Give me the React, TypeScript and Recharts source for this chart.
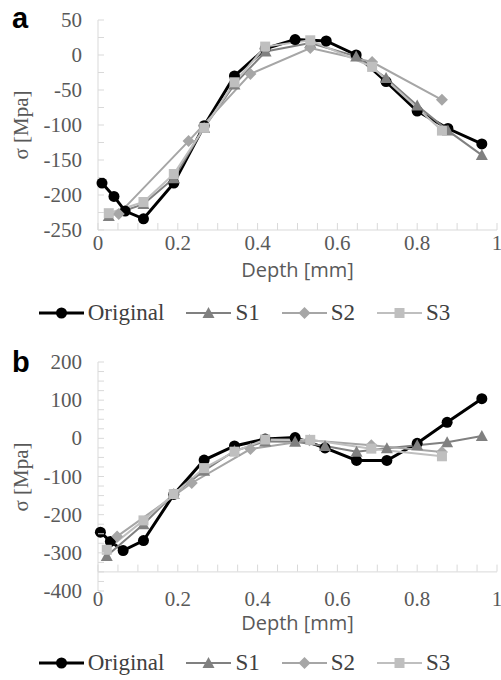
import React from "react";
import { LineChart, Line, XAxis, YAxis, Legend, Label, ReferenceLine } from "recharts";

// panel a
const aOrigX = [0.01, 0.04, 0.068, 0.114, 0.19, 0.266, 0.342, 0.419, 0.494, 0.572, 0.647, 0.722, 0.8, 0.877, 0.962];
const aOrigY = [-183, -202, -223, -234, -183, -101, -30, 9, 22, 20, 0, -38, -80, -105, -127];
const aS1X = [0.027, 0.114, 0.19, 0.266, 0.342, 0.42, 0.532, 0.647, 0.722, 0.8, 0.877, 0.962];
const aS1Y = [-230, -213, -176, -104, -42, 5, 17, -2, -33, -72, -108, -143];
const aS2X = [0.052, 0.227, 0.382, 0.532, 0.687, 0.862];
const aS2Y = [-227, -123, -27, 10, -10, -64];
const aS3X = [0.027, 0.114, 0.19, 0.266, 0.342, 0.419, 0.532, 0.687, 0.862];
const aS3Y = [-226, -210, -170, -104, -39, 12, 21, -17, -108];

// panel b
const bOrigX = [0.006, 0.031, 0.063, 0.114, 0.19, 0.266, 0.342, 0.419, 0.494, 0.569, 0.648, 0.724, 0.8, 0.875, 0.962];
const bOrigY = [-246, -270, -294, -268, -147, -57, -20, -2, 2, -25, -58, -58, -13, 42, 104];
const bS1X = [0.022, 0.114, 0.19, 0.266, 0.342, 0.419, 0.494, 0.569, 0.648, 0.724, 0.8, 0.875, 0.962];
const bS1Y = [-308, -225, -146, -85, -33, -8, -9, -20, -35, -26, -18, -10, 6];
const bS2X = [0.048, 0.235, 0.382, 0.53, 0.685, 0.862];
const bS2Y = [-257, -117, -28, -5, -18, -36];
const bS3X = [0.022, 0.114, 0.19, 0.266, 0.342, 0.419, 0.532, 0.685, 0.862];
const bS3Y = [-292, -215, -146, -78, -35, -3, -4, -27, -47];

const X_TICKS = [0, 0.05, 0.1, 0.15, 0.2, 0.25, 0.3, 0.35, 0.4, 0.45, 0.5, 0.55, 0.6, 0.65, 0.7, 0.75, 0.8, 0.85, 0.9, 0.95, 1];
const X_LABELS = [0, 0.2, 0.4, 0.6, 0.8, 1];
const A_Y_TICKS = [-250, -225, -200, -175, -150, -125, -100, -75, -50, -25, 0, 25, 50];
const A_Y_LABELS = [-250, -200, -150, -100, -50, 0, 50];
const B_Y_TICKS = [-400, -375, -350, -325, -300, -275, -250, -225, -200, -175, -150, -125, -100, -75, -50, -25, 0, 25, 50, 75, 100, 125, 150, 175, 200];
const B_Y_LABELS = [-400, -300, -200, -100, 0, 100, 200];

const SERIES = ["Original", "S1", "S2", "S3"];
const COLORS = ["#000000", "#808080", "#a6a6a6", "#bfbfbf"];
const WIDTHS = [3, 2, 2, 2];

const SERIF = '"Liberation Serif", "Times New Roman", serif';
const SANS = '"Open Sans", "Liberation Sans", sans-serif';
const AXIS = "#d9d9d9";
const TXT = "#595959";

const pts = (xs: number[], ys: number[]) => xs.map((x, i) => ({ x, y: ys[i] }));

function Marker({ kind, cx, cy, color }: any) {
  if (cx == null || cy == null) return null;
  if (kind === 0) return <circle cx={cx} cy={cy} r={5.5} fill={color} />;
  if (kind === 1)
    return <polygon points={`${cx},${cy - 6} ${cx - 6},${cy + 5} ${cx + 6},${cy + 5}`} fill={color} />;
  if (kind === 2)
    return <polygon points={`${cx},${cy - 6} ${cx + 6},${cy} ${cx},${cy + 6} ${cx - 6},${cy}`} fill={color} />;
  return <rect x={cx - 5} y={cy - 5} width={10} height={10} fill={color} />;
}

function XTick({ x, y, payload, lineOffset, labelOffset }: any) {
  const v = payload.value;
  return (
    <g>
      <line x1={x} x2={x} y1={y - lineOffset - 7} y2={y - lineOffset} stroke={AXIS} />
      {X_LABELS.includes(v) && (
        <text x={x} y={y + labelOffset} textAnchor="middle" dominantBaseline="central" fill={TXT} style={{ fontFamily: SERIF, fontSize: 21 }}>
          {String(v)}
        </text>
      )}
    </g>
  );
}

function YTick({ x, y, payload, labels }: any) {
  const v = payload.value;
  return (
    <g>
      <line x1={x} x2={x + 6} y1={y} y2={y} stroke={AXIS} />
      {labels.includes(v) && (
        <text x={x - 16} y={y} textAnchor="end" dominantBaseline="central" fill={TXT} style={{ fontFamily: SERIF, fontSize: 21 }}>
          {v}
        </text>
      )}
    </g>
  );
}

function LegendBox() {
  return (
    <div style={{ display: "flex", justifyContent: "center", alignItems: "center", height: 40, paddingLeft: 14, paddingTop: 5, boxSizing: "border-box" }}>
      {SERIES.map((name, i) => (
        <div key={name} style={{ display: "flex", alignItems: "center", marginRight: 22 }}>
          <svg width={45} height={14}>
            <line x1={0} x2={45} y1={7} y2={7} stroke={COLORS[i]} strokeWidth={WIDTHS[i]} />
            <Marker kind={i} cx={22.5} cy={7} color={COLORS[i]} />
          </svg>
          <span style={{ fontFamily: SERIF, fontSize: 23, color: "#404040", marginLeft: 4, lineHeight: "24px" }}>{name}</span>
        </div>
      ))}
    </div>
  );
}

function Panel({ series, yDomain, yTicks, yLabels, height, top, xAxisHeight, lineOffset, labelOffset, depthOffset, axisAtY }: any) {
  return (
    <LineChart width={501} height={height} margin={{ top, right: 4, left: 0, bottom: 0 }}>
      <XAxis
        type="number"
        dataKey="x"
        domain={[0, 1]}
        ticks={X_TICKS}
        interval={0}
        height={xAxisHeight}
        tickSize={0}
        tickMargin={0}
        axisLine={axisAtY == null ? { stroke: AXIS } : false}
        tickLine={false}
        tick={(p: any) => <XTick {...p} lineOffset={lineOffset} labelOffset={labelOffset} />}
      >
        <Label value="Depth [mm]" position="insideBottom" offset={depthOffset} fill={TXT} fontFamily={SANS} fontSize={20} />
      </XAxis>
      <YAxis
        type="number"
        domain={yDomain}
        ticks={yTicks}
        interval={0}
        width={98}
        tickSize={0}
        tickMargin={0}
        axisLine={{ stroke: AXIS }}
        tickLine={false}
        allowDataOverflow
        tick={(p: any) => <YTick {...p} labels={yLabels} />}
      />
      {axisAtY != null && <ReferenceLine y={axisAtY} stroke={AXIS} />}
      {series.map((d: any, i: number) => (
        <Line
          key={SERIES[i]}
          data={d}
          dataKey="y"
          name={SERIES[i]}
          type="linear"
          stroke={COLORS[i]}
          strokeWidth={WIDTHS[i]}
          isAnimationActive={false}
          dot={(p: any) => <Marker key={`${i}-${p.index}`} kind={i} cx={p.cx} cy={p.cy} color={COLORS[i]} />}
          activeDot={false}
        />
      ))}
      <Legend verticalAlign="bottom" height={40} content={() => <LegendBox />} />
    </LineChart>
  );
}

function YTitle({ top }: any) {
  return (
    <div
      style={{
        position: "absolute",
        left: 21,
        top,
        transform: "translate(-50%, -50%) rotate(-90deg)",
        fontFamily: SERIF,
        fontSize: 21,
        color: TXT,
        whiteSpace: "nowrap",
        lineHeight: "24px",
      }}
    >
      σ [Mpa]
    </div>
  );
}

export default function App() {
  const aSeries = [pts(aOrigX, aOrigY), pts(aS1X, aS1Y), pts(aS2X, aS2Y), pts(aS3X, aS3Y)];
  const bSeries = [pts(bOrigX, bOrigY), pts(bS1X, bS1Y), pts(bS2X, bS2Y), pts(bS3X, bS3Y)];
  const letter = { position: "absolute" as const, left: 12, fontFamily: '"Liberation Sans", Arial, sans-serif', fontWeight: 700, fontSize: 29, color: "#000", lineHeight: "30px" };
  return (
    <div style={{ position: "absolute", left: 0, top: 0, width: 501, height: 680, background: "#fff", overflow: "hidden" }}>
      <div style={{ position: "absolute", left: 0, top: 0 }}>
        <Panel series={aSeries} yDomain={[-250, 50]} yTicks={A_Y_TICKS} yLabels={A_Y_LABELS} height={330} top={20} xAxisHeight={60} lineOffset={0} labelOffset={13} depthOffset={13} />
      </div>
      <div style={{ position: "absolute", left: 0, top: 340 }}>
        <Panel series={bSeries} yDomain={[-400, 200]} yTicks={B_Y_TICKS} yLabels={B_Y_LABELS} height={340} top={22} xAxisHeight={49} lineOffset={19.4} labelOffset={8} depthOffset={10} axisAtY={-350} />
      </div>
      <YTitle top={125} />
      <YTitle top={477} />
      <div style={{ ...letter, top: 3 }}>a</div>
      <div style={{ ...letter, top: 347 }}>b</div>
    </div>
  );
}
